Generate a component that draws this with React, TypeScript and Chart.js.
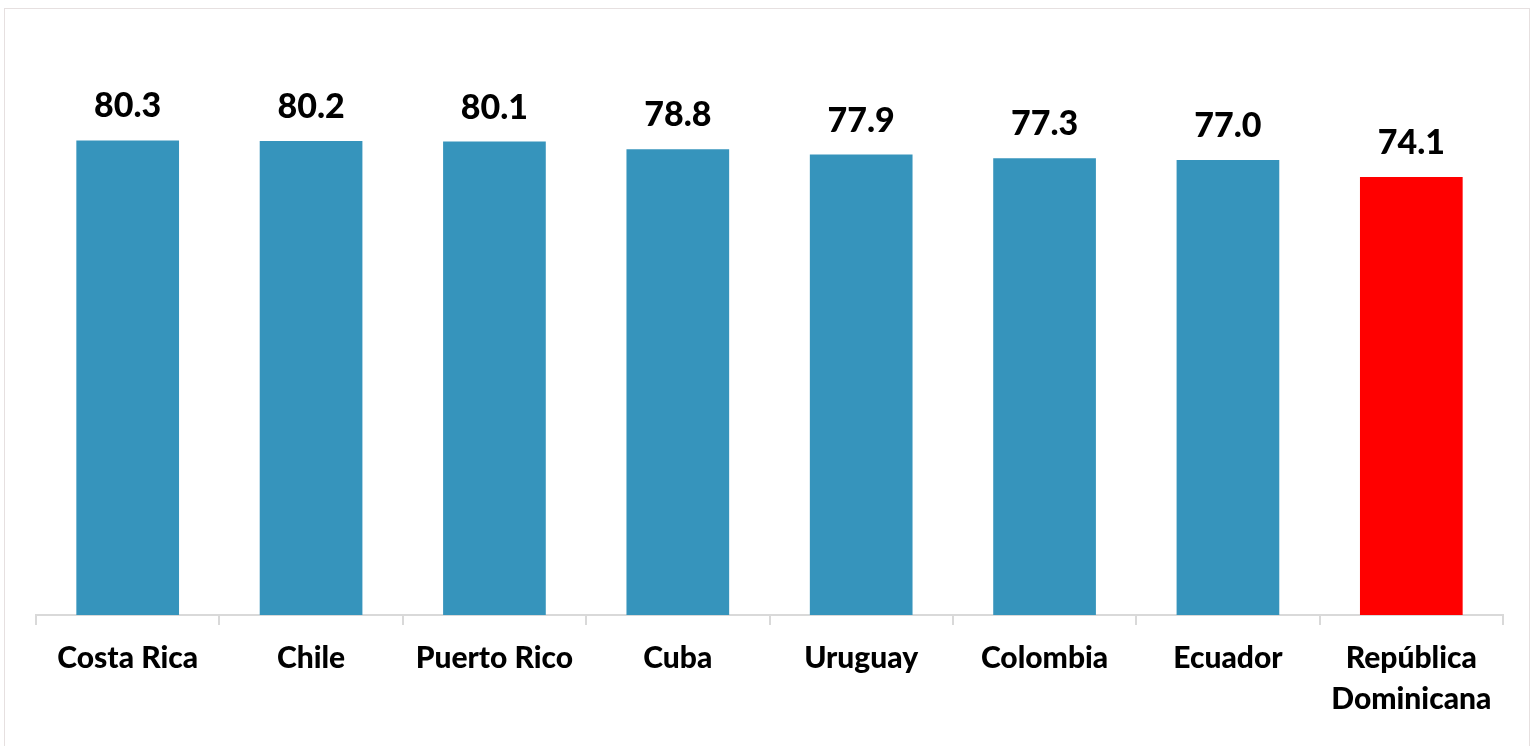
import React, { useEffect, useRef } from "react";
import { Chart, registerables } from "chart.js";

Chart.register(...registerables);

const categories: (string | string[])[] = [
  "Costa Rica",
  "Chile",
  "Puerto Rico",
  "Cuba",
  "Uruguay",
  "Colombia",
  "Ecuador",
  ["República", "Dominicana"],
];
const values = [80.3, 80.2, 80.1, 78.8, 77.9, 77.3, 77.0, 74.1];
const barColors = [
  "#3694BC",
  "#3694BC",
  "#3694BC",
  "#3694BC",
  "#3694BC",
  "#3694BC",
  "#3694BC",
  "#FF0000",
];

const valueLabels = {
  id: "valueLabels",
  afterDatasetsDraw(chart: any) {
    const ctx = chart.ctx;
    const meta = chart.getDatasetMeta(0);
    ctx.save();
    ctx.font = "900 34px Lato";
    ctx.fillStyle = "#000000";
    ctx.textAlign = "center";
    ctx.textBaseline = "alphabetic";
    meta.data.forEach((bar: any, i: number) => {
      ctx.fillText(values[i].toFixed(1), bar.x, bar.y - 23);
    });
    ctx.restore();
  },
};

export default function App() {
  const ref = useRef<HTMLCanvasElement>(null);
  useEffect(() => {
    if (!ref.current) return;
    const chart = new Chart(ref.current, {
      type: "bar",
      data: {
        labels: categories as any,
        datasets: [
          {
            data: values,
            backgroundColor: barColors,
            barPercentage: 0.56,
            categoryPercentage: 1,
          },
        ],
      },
      options: {
        animation: false,
        responsive: false,
        maintainAspectRatio: false,
        layout: { padding: { top: 24, left: 36, right: 33, bottom: 0 } },
        plugins: {
          legend: { display: false },
          tooltip: { enabled: false },
        },
        scales: {
          x: {
            afterFit: (scale: any) => {
              scale.height = 131;
            },
            grid: {
              display: true,
              offset: true,
              drawOnChartArea: false,
              tickLength: 10,
              color: "#D9D9D9",
              lineWidth: 2,
            },
            border: { display: true, color: "#D9D9D9", width: 2 },
            ticks: {
              color: "#000000",
              font: { family: "Lato", size: 30, weight: "900", lineHeight: 1.36 },
              padding: 13,
              maxRotation: 0,
              autoSkip: false,
            },
          },
          y: {
            display: false,
            min: 0,
            max: 100,
          },
        },
      },
      plugins: [valueLabels],
    });
    return () => chart.destroy();
  }, []);

  return (
    <div style={{ position: "absolute", left: 0, top: 0, width: 1536, height: 746, background: "#fff" }}>
      <div
        style={{
          position: "absolute",
          left: 4,
          top: 8,
          width: 1526,
          height: 760,
          border: "1.5px solid #E6E0E0",
          boxSizing: "border-box",
        }}
      />
      <canvas ref={ref} width={1536} height={746} style={{ position: "absolute", left: 0, top: 0 }} />
    </div>
  );
}
